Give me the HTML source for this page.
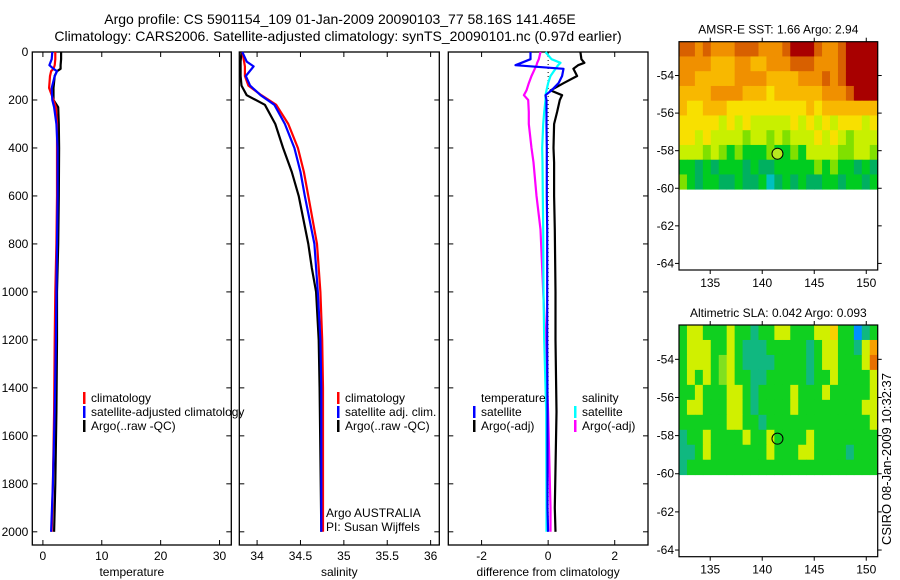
<!DOCTYPE html>
<html><head><meta charset="utf-8">
<style>
html,body{margin:0;padding:0;background:#fff;}
svg{display:block;font-family:"Liberation Sans",sans-serif;}
</style></head>
<body>
<svg id="fig" width="900" height="580" viewBox="0 0 900 580" xmlns="http://www.w3.org/2000/svg">
<text x="340" y="24" font-size="14" text-anchor="middle">Argo profile: CS 5901154_109 01-Jan-2009 20090103_77 58.16S 141.465E</text>
<text x="338" y="41" font-size="14" text-anchor="middle">Climatology: CARS2006. Satellite-adjusted climatology: synTS_20090101.nc (0.97d earlier)</text>
<g id="g1"></g>
<g id="g2"></g>
<g id="g3"></g>
<g id="m1"></g>
<g id="m2"></g>
<text transform="translate(891,545) rotate(-90)" font-size="13">CSIRO 08-Jan-2009 10:32:37</text>
</svg>
<script>
// ---- data ----
const depthT = [0,30,55,70,80,100,150,200,230,300,400,600,800,1000,1200,1500,1800,2000];
const tempClim = [2.1,2.1,2.0,1.8,1.4,1.2,1.05,1.8,2.2,2.4,2.4,2.4,2.3,2.1,2.0,1.9,1.7,1.5];
const tempSat  = [1.6,1.5,1.1,1.8,2.4,2.0,1.5,1.6,1.9,2.3,2.5,2.5,2.4,2.3,2.2,2.0,1.7,1.4];
const tempArgo = [3.1,3.1,3.0,3.0,2.4,2.0,1.8,1.8,2.6,2.7,2.75,2.7,2.6,2.4,2.4,2.3,2.1,1.9];
const depthS = [0,40,60,100,140,180,220,300,400,500,600,800,900,1000,1200,1400,2000];
const salClim = [33.83,33.85,33.86,33.86,33.90,34.05,34.22,34.36,34.47,34.54,34.59,34.69,34.71,34.73,34.75,34.76,34.76];
const salSat  = [33.83,33.88,33.96,33.87,33.92,34.04,34.20,34.32,34.43,34.50,34.55,34.66,34.68,34.70,34.73,34.74,34.74];
const salArgo = [33.82,33.81,33.81,33.81,33.82,33.88,34.09,34.21,34.30,34.40,34.48,34.59,34.63,34.68,34.71,34.72,34.74];
const depthD = [0,30,45,55,70,100,130,160,180,200,250,300,400,460,600,740,1000,1200,1500,1900,2000];
const dTsat  = [-0.53,-0.53,-0.8,-0.98,0.46,0.42,0.31,0.1,-0.08,-0.05,-0.05,-0.05,-0.04,-0.04,-0.04,-0.03,-0.03,-0.03,-0.02,-0.02,0.0];
const dTargo = [0.97,1.0,1.09,0.9,0.76,0.87,0.46,0.07,0.42,0.35,0.27,0.18,0.16,0.18,0.18,0.2,0.22,0.22,0.25,0.2,0.22];
const dSsat  = [-0.08,0.1,0.37,0.3,0.22,0.07,0.0,-0.05,-0.08,-0.08,-0.12,-0.15,-0.18,-0.17,-0.16,-0.15,-0.14,-0.12,-0.06,-0.05,-0.05];
const dSargo = [-0.23,-0.28,-0.33,-0.35,-0.4,-0.5,-0.58,-0.65,-0.73,-0.6,-0.58,-0.58,-0.5,-0.44,-0.35,-0.23,-0.15,-0.08,0.0,0.07,0.07];
const depthTicks = [0,200,400,600,800,1000,1200,1400,1600,1800,2000];
const tempTicks = [0,10,20,30];
const salTicks = [34,34.5,35,35.5,36];
const diffTicks = [-2,0,2];
const lonTicks = [135,140,145,150];
const latTicks = [-54,-56,-58,-60,-62,-64];
const argoLon = 141.465, argoLat = -58.16;
const sstGrid = [
"8878777888777899987789999",
"7777666776677788877789999",
"7766666777766667778789999",
"6666777766656666667778999",
"6556665555555555656666666",
"5555545454444454545455545",
"5545444434434344454543444",
"4443432322232232444433443",
"2212122212112222232322121",
"3212211211201212112212212"];
const slaGrid = [
"2442224221224422244522012",
"2444224211122222124422146",
"2444234211112222124422247",
"2424234221122222122422224",
"2242224421222242224222224",
"2442224421222242222222244",
"2222224422122222222222224",
"1224222242242222422222222",
"1124222222242224422221222",
"1222222222222222222222222"];
const sstColors = ["#00c0c0","#00b060","#00cc20","#80e000","#c8f000","#f8e000","#f8b800","#f09000","#d86000","#a80000"];
const slaColors = ["#0090ff","#10b880","#10d020","#80e020","#d0f000","#f8d000","#f8a000","#e87000"];

// ---- helpers ----
const NS="http://www.w3.org/2000/svg";
function mk(parent,tag,attrs){const e=document.createElementNS(NS,tag);for(const k in attrs)e.setAttribute(k,attrs[k]);parent.appendChild(e);return e;}
const Y0=52,Y1=545,DMAX=2055;
const yD = d => Y0 + (d/DMAX)*(Y1-Y0);
function panel(g,x0,x1,xmin,xmax,xticks,label,showY){
  const xs=v=>x0+(v-xmin)/(xmax-xmin)*(x1-x0);
  const f=mk(g,'rect',{x:x0,y:Y0,width:x1-x0,height:Y1-Y0,fill:'none',stroke:'#000','stroke-width':1.3});
  
  
  depthTicks.forEach(d=>{const y=yD(d);
    mk(g,'line',{x1:x0,x2:x0+5,y1:y,y2:y,stroke:'#000'});
    mk(g,'line',{x1:x1-5,x2:x1,y1:y,y2:y,stroke:'#000'});
    if(showY){const t=mk(g,'text',{x:x0-4,y:y+4,'font-size':12,'text-anchor':'end'});t.textContent=d;
      
      }
  });
  xticks.forEach(v=>{const x=xs(v);
    mk(g,'line',{x1:x,x2:x,y1:Y0,y2:Y0+5,stroke:'#000'});
    mk(g,'line',{x1:x,x2:x,y1:Y1-5,y2:Y1,stroke:'#000'});
    const t=mk(g,'text',{x:x,y:Y1+15,'font-size':12,'text-anchor':'middle'});t.textContent=v;
    
    
  });
  const l=mk(g,'text',{x:(x0+x1)/2,y:Y1+31,'font-size':12,'text-anchor':'middle'});l.textContent=label;
  
  
  return xs;
}
function line(g,xs,vals,depths,color,name){
  const pts=vals.map((v,i)=>xs(v).toFixed(1)+','+yD(depths[i]).toFixed(1)).join(' ');
  const p=mk(g,'polyline',{points:pts,fill:'none',stroke:color,'stroke-width':2.2,'stroke-linejoin':'round'});
  
  
}
function legend(g,x,y,items){
  items.forEach((it,i)=>{
    if(it[1]) mk(g,'rect',{x:x,y:y+i*14-10,width:2.5,height:12,fill:it[1]});
    const t=mk(g,'text',{x:x+8,y:y+i*14,'font-size':12});t.textContent=it[0];
    
    
  });
}
// temperature
const g1=document.getElementById('g1');
const xT=panel(g1,32.3,231.3,-1.8,32,tempTicks,'temperature',true);
line(g1,xT,tempArgo,depthT,'#000','temp-argo-line');
line(g1,xT,tempClim,depthT,'#f00','temp-climatology-line');
line(g1,xT,tempSat,depthT,'#00f','temp-satellite-line');
legend(g1,83,402,[['climatology','#f00'],['satellite-adjusted climatology','#00f'],['Argo(..raw -QC)','#000']]);
// salinity
const g2=document.getElementById('g2');
const xS=panel(g2,239.3,439.3,33.795,36.1,salTicks,'salinity',false);
line(g2,xS,salArgo,depthS,'#000','sal-argo-line');
line(g2,xS,salClim,depthS,'#f00','sal-climatology-line');
line(g2,xS,salSat,depthS,'#00f','sal-satellite-line');
legend(g2,337,402,[['climatology','#f00'],['satellite adj. clim.','#00f'],['Argo(..raw -QC)','#000']]);
legend(g2,318,517,[['Argo AUSTRALIA',null],['PI: Susan Wijffels',null]]);
// difference
const g3=document.getElementById('g3');
const xD=panel(g3,448.3,648,-3,3,diffTicks,'difference from climatology',false);
mk(g3,'line',{x1:xD(0),x2:xD(0),y1:Y0,y2:yD(2000),stroke:'#000','stroke-dasharray':'1,3'});
line(g3,xD,dSargo,depthD,'#f0f','diff-sal-argo-line');
line(g3,xD,dTargo,depthD,'#000','diff-temp-argo-line');
line(g3,xD,dSsat,depthD,'#0ff','diff-sal-satellite-line');
line(g3,xD,dTsat,depthD,'#00f','diff-temp-satellite-line');
legend(g3,473,402,[['temperature',null],['satellite','#00f'],['Argo(-adj)','#000']]);
legend(g3,574,402,[['salinity',null],['satellite','#0ff'],['Argo(-adj)','#f0f']]);
// maps
function map(g,top,bottom,grid,colors,title,fillMarker){
  const X0=679,X1=877.7,LON0=132,LON1=151.1;
  const LAT0=-64-(bottom-(top+ (bottom-top)))/1; // placeholder
  const pxPerDeg=(bottom-top)/(12.15);
  const latTop=-52.2;
  const xs=v=>X0+(v-LON0)/(LON1-LON0)*(X1-X0);
  const ys=v=>top+(latTop-v)*pxPerDeg;
  const rows=grid.length, cols=grid[0].length;
  const dLon=(LON1-LON0)/cols, dLat=(latTop-(-60.05))/rows;
  grid.forEach((row,r)=>{[...row].forEach((ch,c)=>{
    const x=xs(LON0+c*dLon), y=ys(latTop-r*dLat);
    const cell=mk(g,'rect',{x:x.toFixed(2),y:y.toFixed(2),width:(xs(LON0+(c+1)*dLon)-x+0.4).toFixed(2),height:(ys(latTop-(r+1)*dLat)-y+0.4).toFixed(2),fill:colors[+ch]});
    
    
  });});
  const f=mk(g,'rect',{x:X0,y:top,width:X1-X0,height:bottom-top,fill:'none',stroke:'#000','stroke-width':1.2});
  
  
  latTicks.forEach(v=>{const y=ys(v);
    mk(g,'line',{x1:X0-4,x2:X0,y1:y,y2:y,stroke:'#000'});
    mk(g,'line',{x1:X1,x2:X1+4,y1:y,y2:y,stroke:'#000'});
    const t=mk(g,'text',{x:X0-5,y:y+4,'font-size':12,'text-anchor':'end'});t.textContent=v;
    
    });
  lonTicks.forEach(v=>{const x=xs(v);
    mk(g,'line',{x1:x,x2:x,y1:top-4,y2:top,stroke:'#000'});
    mk(g,'line',{x1:x,x2:x,y1:bottom,y2:bottom+4,stroke:'#000'});
    const t=mk(g,'text',{x:x,y:bottom+17,'font-size':12,'text-anchor':'middle'});t.textContent=v;
    
    });
  const tt=mk(g,'text',{x:(X0+X1)/2,y:top-8,'font-size':12,'text-anchor':'middle'});tt.textContent=title;
  
  
  const m=mk(g,'circle',{cx:xs(argoLon),cy:ys(argoLat),r:5.5,fill:fillMarker,stroke:'#000','stroke-width':1});
  
  
}
map(document.getElementById('m1'),41.7,270,sstGrid,sstColors,'AMSR-E SST: 1.66 Argo: 2.94','#b8e820');
map(document.getElementById('m2'),325,556.7,slaGrid,slaColors,'Altimetric SLA: 0.042 Argo: 0.093','none');
</script>
</body></html>
